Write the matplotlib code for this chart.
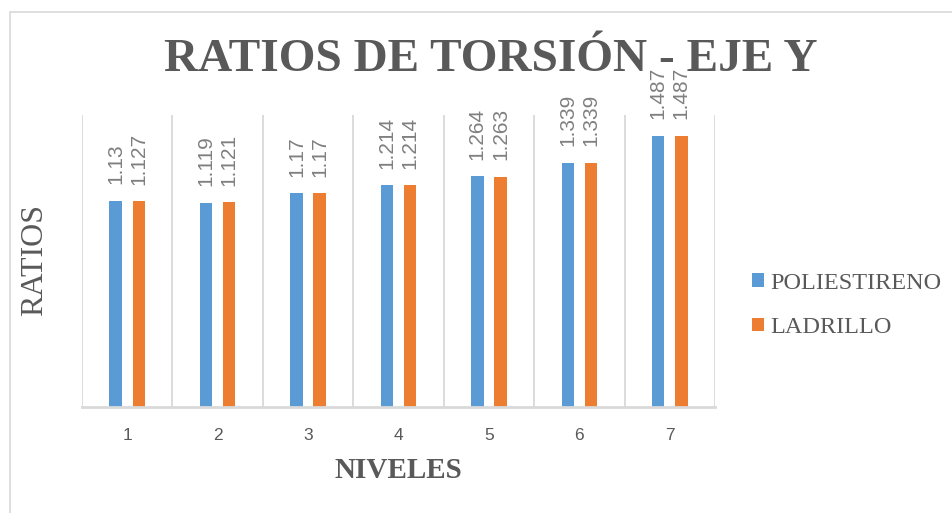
import matplotlib
matplotlib.use("Agg")
import matplotlib.pyplot as plt
from matplotlib.patches import Rectangle
from matplotlib import font_manager as fm
import numpy as np

niveles = ['1', '2', '3', '4', '5', '6', '7']
poliestireno = [1.13, 1.119, 1.17, 1.214, 1.264, 1.339, 1.487]
ladrillo = [1.127, 1.121, 1.17, 1.214, 1.263, 1.339, 1.487]
series_names = ['POLIESTIRENO', 'LADRILLO']
title_text = 'RATIOS DE TORSIÓN - EJE Y'
xlabel_text = 'NIVELES'
ylabel_text = 'RATIOS'

BLUE = '#5B9BD5'
ORANGE = '#ED7D31'
GRID = '#D9D9D9'
TXT = '#595959'
LBL = '#7F7F7F'

sans = 'Liberation Sans'
if any('LiberationSansNarrow' in f.replace('-', '') for f in fm.findSystemFonts()):
    sans = 'Liberation Sans Narrow'
serif = 'Liberation Serif'

W, H = 953, 513
fig = plt.figure(figsize=(W / 100, H / 100), dpi=100)
fig.patch.set_facecolor('white')

# outer chart frame
fig.patches.append(Rectangle((10 / W, -0.1), 1.2, 1.1 - 12 / H, transform=fig.transFigure,
                             fill=False, edgecolor=GRID, lw=1.2))

left, right, bottom, top = 82, 715, 407, 115
ax = fig.add_axes([left / W, 1 - bottom / H, (right - left) / W, (bottom - top) / H])

x = np.arange(len(niveles))
bw = 0.137
off = 0.128
b1 = ax.bar(x - off, poliestireno, bw, color=BLUE, label=series_names[0], zorder=3)
b2 = ax.bar(x + off, ladrillo, bw, color=ORANGE, label=series_names[1], zorder=3)

for bars, vals in ((b1, poliestireno), (b2, ladrillo)):
    for rect, v in zip(bars, vals):
        ax.annotate(f"{v:g}", (rect.get_x() + rect.get_width() / 2, rect.get_height()),
                    xytext=(0, 12), textcoords='offset points', rotation=90,
                    ha='center', va='bottom', fontsize=15, color=LBL,
                    family=sans, annotation_clip=False)

ax.set_xlim(-0.5, len(niveles) - 0.5)
ax.set_ylim(0, 1.6)
ax.set_yticks([])
ax.set_xticks(x)
ax.set_xticklabels(niveles, family=sans, fontsize=12.5, color=TXT)
ax.set_xticks(np.arange(len(niveles) + 1) - 0.5, minor=True)
ax.tick_params(axis='x', which='both', length=0, pad=15)
ax.grid(True, which='minor', axis='x', color=GRID, lw=1.3, zorder=0)
for s in ('top', 'right', 'left'):
    ax.spines[s].set_visible(False)
ax.spines['bottom'].set_color(GRID)
ax.spines['bottom'].set_linewidth(2)
ax.spines['bottom'].set_zorder(4)

fig.text(491 / W, 1 - 60 / H, title_text, ha='center', va='center', family=serif,
         fontweight='bold', fontsize=34, color=TXT)
fig.text(35 / W, 1 - 260 / H, ylabel_text, ha='center', va='center', rotation=90,
         family=serif, fontsize=23, color=TXT)
fig.text(398 / W, 1 - 471 / H, xlabel_text, ha='center', va='center', family=serif,
         fontweight='bold', fontsize=21, color=TXT)

leg = fig.legend(handles=[b1, b2], labels=series_names, loc='upper left',
                 bbox_to_anchor=(752 / W, 1 - 273 / H), frameon=False,
                 prop={'family': serif, 'size': 17.5}, handlelength=0.5, handleheight=0.5,
                 handletextpad=0.25, labelspacing=0.95, borderpad=0, borderaxespad=0)
for t in leg.get_texts():
    t.set_color(TXT)

fig.savefig('out.png', dpi=100, facecolor='white')
